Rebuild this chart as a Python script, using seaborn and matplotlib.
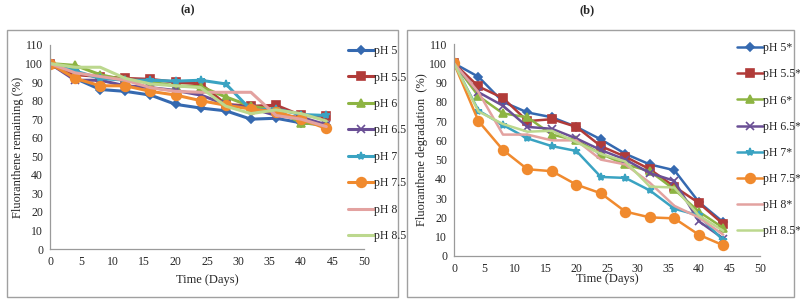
"""Fluoranthene remaining / degradation at different pH"""
import numpy as np
import pandas as pd
import seaborn as sns
import matplotlib
matplotlib.use("Agg")
import matplotlib.pyplot as plt
from matplotlib.patches import Rectangle

days = [0, 4, 8, 12, 16, 20, 24, 28, 32, 36, 40, 44]

# panel (a): fluoranthene remaining (%)
labels_a = ["pH 5", "pH 5.5", "pH 6", "pH 6.5", "pH 7", "pH 7.5", "pH 8", "pH 8.5"]
ph5 = [100, 92, 86, 85, 83, 78, 76, 74.5, 70, 70.5, 68, 67]
ph55 = [100, 94, 93, 92, 91.5, 90, 89, 78, 77, 77.5, 72, 71.5]
ph6 = [100, 99, 94, 91, 90, 88, 87.5, 82, 77, 75, 68, 67]
ph65 = [100, 91, 91, 88, 87, 85.5, 83, 78, 76, 72, 71, 67]
ph7 = [100, 96, 92, 91, 91, 90.5, 91, 89, 75, 75.5, 72.5, 72]
ph75 = [100, 92, 88, 88, 85, 83, 80, 77.5, 75.5, 74, 70, 65]
ph8 = [100, 95, 93, 91, 87, 85, 84.5, 84.5, 84.5, 72, 70, 66]
ph85 = [100, 98, 98, 92, 89, 88, 87, 77, 73, 75, 73, 69]

# panel (b): fluoranthene degradation (%)
labels_b = ["pH 5*", "pH 5.5*", "pH 6*", "pH 6.5*", "pH 7*", "pH 7.5*", "pH 8*", "pH 8.5*"]
ph5s = [100, 93, 80, 74.5, 72, 67, 60.5, 53, 47.5, 44.5, 28, 17.5]
ph55s = [100, 88, 82, 70, 71, 67, 57, 51.5, 45, 36, 27.5, 16.5]
ph6s = [100, 83, 74, 72, 63, 60, 53, 47.5, 44, 34.5, 23, 14.5]
ph65s = [100, 85, 78, 67, 66, 61, 55, 50, 43, 39, 18, 9]
ph7s = [100, 75.5, 68, 61, 57, 54.5, 41, 40.5, 34, 24.5, 21, 8]
ph75s = [100, 70, 55, 45, 44, 37, 32.5, 23, 20, 19.5, 11, 5.5]
ph8s = [100, 85, 63, 63, 60, 60, 50, 47.5, 38, 26, 20, 11]
ph85s = [100, 75, 68.5, 64.5, 65, 59, 53, 49, 36, 35.5, 21, 13]

colors = ["#3569b0", "#b13b39", "#8db443", "#6a4f95", "#3aa3c2",
          "#f08a2e", "#e3a2a0", "#bcd88e"]
markers = ["D", "s", "^", "x", "*", "o", None, None]
msizes = [4.5, 6, 5.5, 6, 6, 7, 0, 0]


def long_df(labels, series):
    rows = []
    for lab, vals in zip(labels, series):
        for d, v in zip(days, vals):
            rows.append({"day": d, "value": v, "series": lab})
    return pd.DataFrame(rows)


def draw(ax, df, labels, lw):
    for i, lab in enumerate(labels):
        sub = df[df["series"] == lab]
        sns.lineplot(data=sub, x="day", y="value", ax=ax, color=colors[i],
                     marker=markers[i], markersize=msizes[i], linewidth=lw,
                     markeredgecolor=colors[i], markeredgewidth=1.2,
                     label=lab, legend=False)
    ax.set_xlim(0, 50)
    ax.set_ylim(0, 110)
    ax.set_xticks(np.arange(0, 51, 5))
    ax.set_yticks(np.arange(0, 111, 10))
    for s in ["top", "right"]:
        ax.spines[s].set_visible(False)
    for s in ["left", "bottom"]:
        ax.spines[s].set_color("#9a9a9a")
        ax.spines[s].set_linewidth(0.9)
    ax.tick_params(axis="both", direction="out", length=3, width=0.8,
                   color="#9a9a9a", labelsize=8.5, pad=2)
    ax.margins(0)


sns.set_theme(style="white")
plt.rcParams["font.family"] = ["Liberation Serif", "DejaVu Serif"]

fig = plt.figure(figsize=(8, 3), dpi=100)

# chart-area frames
for x0, w in [(0.009, 0.488), (0.509, 0.483)]:
    fig.patches.append(Rectangle((x0, 0.01), w, 0.89, transform=fig.transFigure,
                                 fill=False, edgecolor="#a0a0a0", linewidth=1.0))

ax1 = fig.add_axes([0.0625, 0.17, 0.3925, 0.68])
ax2 = fig.add_axes([0.5675, 0.147, 0.3825, 0.706])

df_a = long_df(labels_a, [ph5, ph55, ph6, ph65, ph7, ph75, ph8, ph85])
df_b = long_df(labels_b, [ph5s, ph55s, ph6s, ph65s, ph7s, ph75s, ph8s, ph85s])

draw(ax1, df_a, labels_a, 2.2)
draw(ax2, df_b, labels_b, 1.8)

ax1.set_xlabel("Time (Days)", fontsize=9, labelpad=4)
ax1.set_ylabel("Fluoranthene remaining (%)", fontsize=9, labelpad=1)
ax2.set_xlabel("Time (Days)", fontsize=9, labelpad=-1)
ax2.set_ylabel("Fluoranthene degradation  (%)", fontsize=9, labelpad=1)

h1, l1 = ax1.get_legend_handles_labels()
fig.legend(h1, l1, loc="upper left", bbox_to_anchor=(0.429, 0.865),
           frameon=False, fontsize=8.5, handlelength=2.2, handletextpad=0.0,
           labelspacing=1.22, borderaxespad=0)
h2, l2 = ax2.get_legend_handles_labels()
fig.legend(h2, l2, loc="upper left", bbox_to_anchor=(0.915, 0.875),
           frameon=False, fontsize=8.5, handlelength=2.2, handletextpad=0.0,
           labelspacing=1.2, borderaxespad=0)

fig.text(0.235, 0.965, "(a)", ha="center", va="center", fontsize=9,
         fontweight="bold")
fig.text(0.734, 0.965, "(b)", ha="center", va="center", fontsize=9,
         fontweight="bold")

fig.savefig("out.png", dpi=100)
